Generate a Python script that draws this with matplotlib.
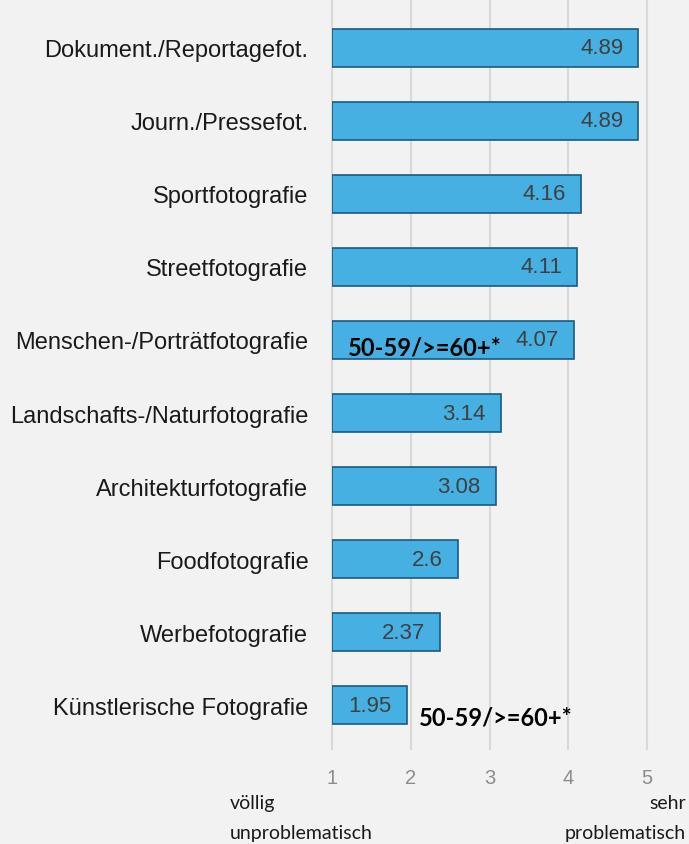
import matplotlib
matplotlib.use("Agg")
import matplotlib.pyplot as plt

categories = ["Dokument./Reportagefot.", "Journ./Pressefot.", "Sportfotografie",
              "Streetfotografie", "Menschen-/Porträtfotografie", "Landschafts-/Naturfotografie",
              "Architekturfotografie", "Foodfotografie", "Werbefotografie",
              "Künstlerische Fotografie"]
values = [4.89, 4.89, 4.16, 4.11, 4.07, 3.14, 3.08, 2.6, 2.37, 1.95]
ticks = [1, 2, 3, 4, 5]
note = "50-59/>=60+*"

bg = "#f2f2f2"
fig = plt.figure(figsize=(6.89, 8.45), dpi=100, facecolor=bg)
ax = fig.add_axes([332/689, 1-743/845, (647-332)/689, (743-12)/845], facecolor=bg)

y = list(range(len(categories)))
ax.barh(y, [v - 1 for v in values], left=1, height=0.52, color="#45b0e1",
        edgecolor="#1b5a7e", linewidth=1.2, zorder=3)
ax.set_ylim(len(categories) - 0.5, -0.5)
ax.set_xlim(1, 5)
for t in ticks:
    ax.axvline(t, ymin=-0.01, ymax=1.02, color="#d9d9d9", lw=1.5, zorder=1, clip_on=False)
for s in ax.spines.values():
    s.set_visible(False)
ax.set_xticks(ticks)
ax.set_xticklabels([str(t) for t in ticks], color="#8c8c8c", fontsize=14.5, family="Liberation Sans")
ax.tick_params(axis="x", length=0, pad=19)
ax.set_yticks(y)
ax.set_yticklabels(categories, fontsize=17, color="#1a1a1a", family="Liberation Sans")
ax.tick_params(axis="y", length=0, pad=17)

for yi, v in zip(y, values):
    ax.text(v - 0.19, yi, f"{v:g}", ha="right", va="center", fontsize=16,
            color="#404040", family="Liberation Sans", zorder=4)

ax.text(1.2, 4.1, note, ha="left", va="center", fontsize=17, fontweight="bold",
        color="black", family="Lato", zorder=5)
ax.text(2.1, 10 - 0.84, note, ha="left", va="center", fontsize=17, fontweight="bold",
        color="black", family="Lato", zorder=5)

fs = 14
fig.text(230/689, 1-804/845, "völlig", ha="left", va="center", fontsize=fs, color="#1a1a1a", family="Lato")
fig.text(230/689, 1-834/845, "unproblematisch", ha="left", va="center", fontsize=fs, color="#1a1a1a", family="Lato")
fig.text(686/689, 1-804/845, "sehr", ha="right", va="center", fontsize=fs, color="#1a1a1a", family="Lato")
fig.text(686/689, 1-834/845, "problematisch", ha="right", va="center", fontsize=fs, color="#1a1a1a", family="Lato")

fig.savefig("out.png", dpi=100, facecolor=bg)
